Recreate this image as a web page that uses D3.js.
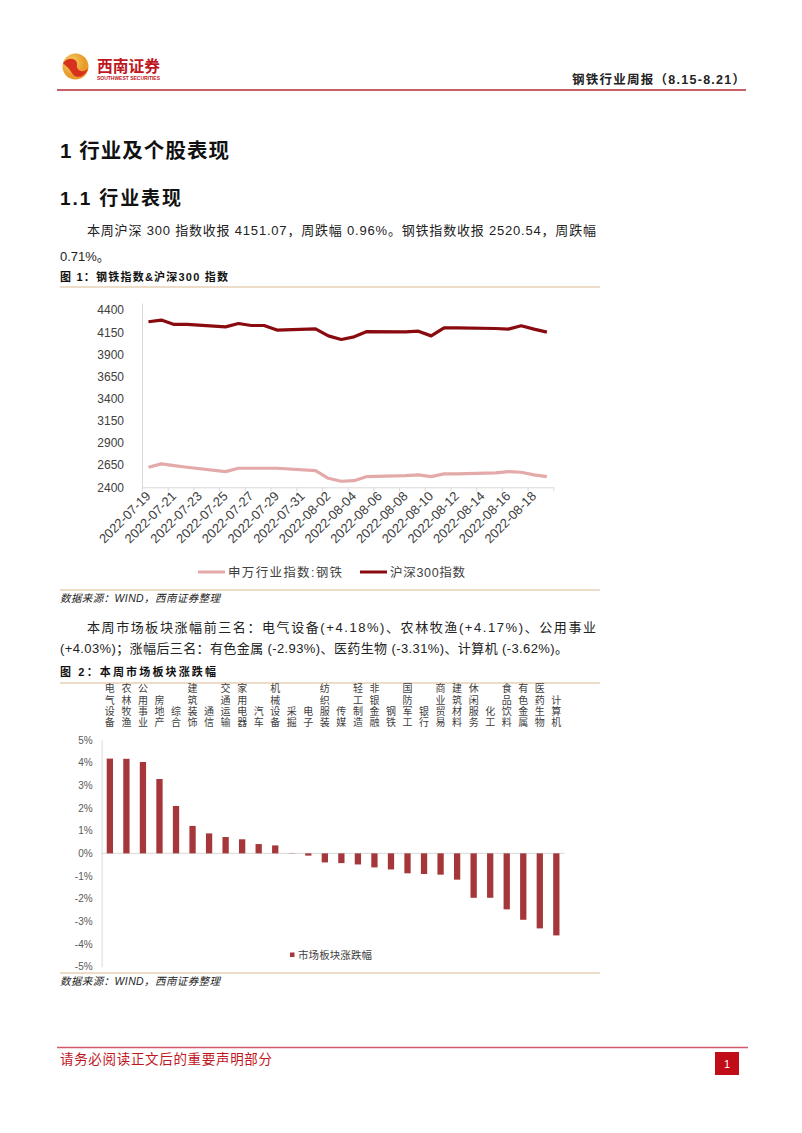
<!DOCTYPE html>
<html><head><meta charset="utf-8">
<script src="https://cdn.jsdelivr.net/npm/d3@7/dist/d3.min.js"></script>
<style>
html,body{margin:0;padding:0;background:#fff;}
svg{display:block;}
text{font-family:"Liberation Sans","Noto Sans CJK SC",sans-serif;}
</style></head>
<body>
<svg id="page" width="802" height="1133"></svg>
<script>
// ---------- DATA ----------
const tradeDates = ["2022-07-19","2022-07-20","2022-07-21","2022-07-22","2022-07-25","2022-07-26","2022-07-27","2022-07-28","2022-07-29","2022-08-01","2022-08-02","2022-08-03","2022-08-04","2022-08-05","2022-08-08","2022-08-09","2022-08-10","2022-08-11","2022-08-12","2022-08-15","2022-08-16","2022-08-17","2022-08-18","2022-08-19"];
const csi300 = [4268,4287,4238,4238,4211,4249,4226,4226,4174,4189,4109,4068,4098,4158,4155,4162,4109,4200,4200,4192,4185,4223,4185,4151];
const steelIdx = [2626,2664,2645,2626,2577,2615,2615,2615,2615,2589,2502,2468,2475,2521,2532,2540,2521,2551,2551,2562,2577,2570,2540,2521];
const dateLabels = ["2022-07-19","2022-07-21","2022-07-23","2022-07-25","2022-07-27","2022-07-29","2022-07-31","2022-08-02","2022-08-04","2022-08-06","2022-08-08","2022-08-10","2022-08-12","2022-08-14","2022-08-16","2022-08-18"];
const yTicks1 = [2400,2650,2900,3150,3400,3650,3900,4150,4400];
const seriesNames1 = ["申万行业指数:钢铁","沪深300指数"];

const sectors = ["电气设备","农林牧渔","公用事业","房地产","综合","建筑装饰","通信","交通运输","家用电器","汽车","机械设备","采掘","电子","纺织服装","传媒","轻工制造","非银金融","钢铁","国防军工","银行","商业贸易","建筑材料","休闲服务","化工","食品饮料","有色金属","医药生物","计算机"];
const sectorChg = [4.18,4.17,4.03,3.28,2.09,1.21,0.88,0.72,0.62,0.41,0.35,0.01,-0.10,-0.40,-0.43,-0.49,-0.62,-0.71,-0.88,-0.91,-0.94,-1.16,-1.96,-1.96,-2.47,-2.93,-3.31,-3.62];
const yTicks2 = [5,4,3,2,1,0,-1,-2,-3,-4,-5];
const seriesName2 = "市场板块涨跌幅";

// ---------- PAGE ----------
const svg = d3.select("#page");
const RED = "#c0161e";

// header logo
const logo = svg.append("g");
const grad = svg.append("defs").append("radialGradient").attr("id","lg").attr("cx","35%").attr("cy","35%");
grad.append("stop").attr("offset","0%").attr("stop-color","#f8d36a");
grad.append("stop").attr("offset","100%").attr("stop-color","#e89a2a");
logo.append("circle").attr("cx",75.5).attr("cy",66.5).attr("r",13).attr("fill","url(#lg)");
logo.append("path").attr("d","M63,63 C68,56 78,58 77,65 C76,71 84,74 88,68 C86,77 76,80 72,73 C69,68 66,66 63,63 Z").attr("fill","#d8321f");
logo.append("text").attr("x",97).attr("y",72).attr("font-size",15.5).attr("font-weight","bold")
  .attr("fill",RED).attr("textLength",63).attr("lengthAdjust","spacingAndGlyphs").text("西南证券");
logo.append("text").attr("x",97).attr("y",79.5).attr("font-size",5).attr("font-weight","bold")
  .attr("fill",RED).attr("textLength",63).attr("lengthAdjust","spacingAndGlyphs").text("SOUTHWEST SECURITIES");
svg.append("text").attr("x",745).attr("y",84).attr("text-anchor","end").attr("font-size",12.5).attr("font-weight","bold")
  .attr("fill","#222").attr("textLength",173).attr("lengthAdjust","spacing").text("钢铁行业周报（8.15-8.21）");
svg.append("line").attr("x1",57).attr("x2",746).attr("y1",90).attr("y2",90).attr("stroke","#b52a33").attr("stroke-width",1.5);

// headings
svg.append("text").attr("x",60).attr("y",158).attr("font-size",20.5).attr("font-weight","bold").attr("fill","#111")
  .attr("textLength",169).attr("lengthAdjust","spacing").text("1 行业及个股表现");
svg.append("text").attr("x",60).attr("y",205).attr("font-size",19).attr("font-weight","bold").attr("fill","#111")
  .attr("textLength",121).attr("lengthAdjust","spacing").text("1.1 行业表现");

// paragraph 1
svg.append("text").attr("x",87).attr("y",235).attr("font-size",13).attr("fill","#222")
  .attr("textLength",509).attr("lengthAdjust","spacing").text("本周沪深 300 指数收报 4151.07，周跌幅 0.96%。钢铁指数收报 2520.54，周跌幅");
svg.append("text").attr("x",60).attr("y",261).attr("font-size",13).attr("fill","#222").text("0.71%。");

// figure 1 title
svg.append("text").attr("x",60).attr("y",281).attr("font-size",11).attr("font-weight","bold").attr("fill","#111")
  .attr("textLength",168).attr("lengthAdjust","spacing").text("图 1：钢铁指数&沪深300 指数");
svg.append("line").attr("x1",60).attr("x2",600).attr("y1",287).attr("y2",287).attr("stroke","#dcb98f").attr("stroke-width",1.2);

// ---------- CHART 1 ----------
const parse = d3.timeParse("%Y-%m-%d");
const dates = tradeDates.map(parse);
const startDay = parse("2022-07-19"), endDay = parse("2022-08-20");
const x1 = d3.scaleTime().domain([startDay,endDay]).range([142,553.3]);
const y1 = d3.scaleLinear().domain([2400,4480]).range([487.3,303]);
const mid = d => d3.timeHour.offset(d,12);

const c1 = svg.append("g");
const ya1 = c1.append("g").attr("transform","translate(142,0)")
  .call(d3.axisLeft(y1).tickValues(yTicks1).tickSize(0).tickPadding(18).tickFormat(d3.format("d")));
ya1.select(".domain").attr("stroke","#d9d9d9");
ya1.selectAll("text").attr("font-size",12).attr("fill","#404040").attr("font-family","Liberation Sans");
const tickDays = d3.range(dateLabels.length+1).map(i => d3.timeDay.offset(startDay,2*i));
const xa1 = c1.append("g").attr("transform","translate(0,487.3)")
  .call(d3.axisBottom(x1).tickValues(tickDays).tickSize(4).tickSizeOuter(0).tickFormat(""));
xa1.selectAll("line,path").attr("stroke","#d9d9d9");
c1.append("g").selectAll("text").data(dateLabels).join("text")
  .attr("transform",d => `translate(${x1(mid(parse(d)))+3},${497}) rotate(-45)`)
  .attr("text-anchor","end").attr("font-size",13).attr("fill","#404040").text(d => d);

const line1 = d3.line().x((d,i)=>x1(mid(dates[i]))).y(d=>y1(d));
c1.append("path").datum(steelIdx).attr("d",line1).attr("fill","none").attr("stroke","#e3aaa9").attr("stroke-width",3.2).attr("stroke-linejoin","round");
c1.append("path").datum(csi300).attr("d",line1).attr("fill","none").attr("stroke","#8a0b0f").attr("stroke-width",3.2).attr("stroke-linejoin","round");

// legend 1
const lg1 = c1.append("g");
const legItems = [{name:seriesNames1[0],col:"#e3aaa9",x:198,len:114},{name:seriesNames1[1],col:"#8a0b0f",x:360,len:75}];
legItems.forEach(it=>{
  lg1.append("line").attr("x1",it.x).attr("x2",it.x+27).attr("y1",572).attr("y2",572).attr("stroke",it.col).attr("stroke-width",3);
  lg1.append("text").attr("x",it.x+30).attr("y",576.5).attr("font-size",12.5).attr("fill","#404040")
    .attr("textLength",it.len).attr("lengthAdjust","spacing").text(it.name);
});

// source 1
svg.append("line").attr("x1",60).attr("x2",600).attr("y1",590).attr("y2",590).attr("stroke","#dcb98f").attr("stroke-width",1.2);
svg.append("text").attr("x",60).attr("y",602).attr("font-size",10.5).attr("font-style","italic").attr("fill","#222")
  .attr("textLength",160).attr("lengthAdjust","spacing").text("数据来源：WIND，西南证券整理");

// paragraph 2
svg.append("text").attr("x",87).attr("y",632).attr("font-size",13).attr("fill","#222")
  .attr("textLength",509).attr("lengthAdjust","spacing").text("本周市场板块涨幅前三名：电气设备(+4.18%)、农林牧渔(+4.17%)、公用事业");
svg.append("text").attr("x",60).attr("y",653).attr("font-size",13).attr("fill","#222")
  .attr("textLength",508).attr("lengthAdjust","spacing").text("(+4.03%)；涨幅后三名：有色金属 (-2.93%)、医药生物 (-3.31%)、计算机 (-3.62%)。");

svg.append("text").attr("x",60).attr("y",676).attr("font-size",11).attr("font-weight","bold").attr("fill","#111")
  .attr("textLength",156).attr("lengthAdjust","spacing").text("图 2：本周市场板块涨跌幅");
svg.append("line").attr("x1",60).attr("x2",600).attr("y1",683).attr("y2",683).attr("stroke","#dcb98f").attr("stroke-width",1.2);

// ---------- CHART 2 ----------
const x2 = d3.scaleBand().domain(sectors).range([101.6,564.6]).paddingInner(0.62).paddingOuter(0.31);
const y2 = d3.scaleLinear().domain([-5,5]).range([966.7,740]);
const c2 = svg.append("g");
const ya2 = c2.append("g").attr("transform","translate(101.6,0)")
  .call(d3.axisLeft(y2).tickValues(yTicks2).tickSize(0).tickPadding(9).tickFormat(d => d + "%"));
ya2.select(".domain").attr("stroke","#d9d9d9");
ya2.selectAll("text").attr("font-size",10).attr("fill","#595959").attr("font-family","Liberation Sans");
c2.append("line").attr("x1",101.6).attr("x2",564.6).attr("y1",y2(0)).attr("y2",y2(0)).attr("stroke","#d9d9d9");
c2.append("g").selectAll("rect").data(sectorChg).join("rect")
  .attr("x",(d,i)=>x2(sectors[i])).attr("width",x2.bandwidth())
  .attr("y",d=>y2(Math.max(0,d))).attr("height",d=>Math.abs(y2(d)-y2(0)))
  .attr("fill","#a5363a");
const catG = c2.append("g");
sectors.forEach(s=>{
  const chars = Array.from(s);
  const n = chars.length;
  chars.forEach((ch,k)=>{
    catG.append("text").attr("x",x2(s)+x2.bandwidth()/2).attr("y",722.5-(n-1-k)*11.2)
      .attr("text-anchor","middle").attr("dominant-baseline","central")
      .attr("font-size",10).attr("fill","#404040").text(ch);
  });
});
c2.append("rect").attr("x",290).attr("y",952.5).attr("width",4.5).attr("height",4.5).attr("fill","#a5363a");
c2.append("text").attr("x",298).attr("y",959).attr("font-size",10.5).attr("fill","#404040")
  .attr("textLength",74).attr("lengthAdjust","spacing").text(seriesName2);

// source 2
svg.append("line").attr("x1",60).attr("x2",600).attr("y1",973).attr("y2",973).attr("stroke","#dcb98f").attr("stroke-width",1.2);
svg.append("text").attr("x",60).attr("y",985).attr("font-size",10.5).attr("font-style","italic").attr("fill","#222")
  .attr("textLength",160).attr("lengthAdjust","spacing").text("数据来源：WIND，西南证券整理");

// footer
svg.append("line").attr("x1",57).attr("x2",748).attr("y1",1047.5).attr("y2",1047.5).attr("stroke","#d25a6a").attr("stroke-width",1.3);
svg.append("text").attr("x",60).attr("y",1064).attr("font-size",13.5).attr("fill",RED)
  .attr("textLength",212).attr("lengthAdjust","spacing").text("请务必阅读正文后的重要声明部分");
svg.append("rect").attr("x",715).attr("y",1052).attr("width",24).attr("height",23).attr("fill","#c00d17");
svg.append("text").attr("x",727).attr("y",1067.5).attr("text-anchor","middle").attr("font-size",11).attr("fill","#fff").text("1");
</script>
</body></html>
